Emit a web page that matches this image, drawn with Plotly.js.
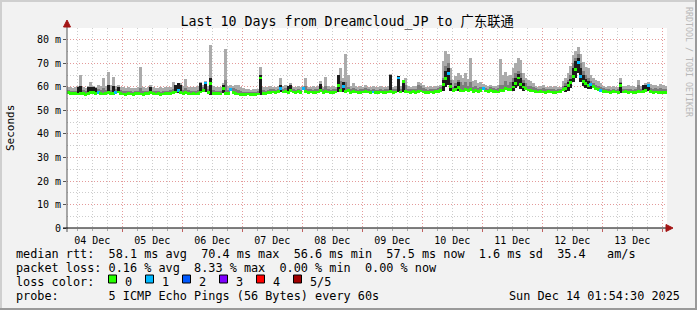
<!DOCTYPE html>
<html><head><meta charset="utf-8">
<script src="https://cdn.plot.ly/plotly-3.0.1.min.js"></script>
<style>html,body{margin:0;padding:0;background:#f2f2f2;}#chart{width:697px;height:310px;}</style>
</head><body><div id="chart"></div>
<script>
// ---- data (hourly steps from start) ----
const startTime = '2025-12-04 01:54:30';
const endTime = '2025-12-14 01:54:30';
const stepMs = 3600000;
const yTickVals = [0,10,20,30,40,50,60,70,80];
const yTickText = ['0','10 m','20 m','30 m','40 m','50 m','60 m','70 m','80 m'];

const medianRtt = [
57.6,57.3,57.1,57.2,57.0,57.3,57.1,56.9,57.4,57.6,
57.8,57.2,57.5,57.3,57.0,57.2,57.6,57.1,57.4,57.7,
57.9,57.2,57.0,56.9,57.1,57.0,56.8,57.1,57.2,57.0,
56.9,57.1,57.3,57.6,57.2,57.0,57.1,56.8,57.0,57.2,
57.1,57.3,57.6,57.9,58.4,57.6,57.1,57.5,57.2,57.0,
57.1,57.0,57.3,57.9,58.6,61.7,57.8,61.5,57.4,57.1,
57.2,57.0,59.5,57.3,57.1,58.8,57.5,57.2,57.0,56.9,
56.9,56.8,57.0,56.9,56.8,56.9,57.0,63.8,57.4,57.2,
57.6,57.8,57.9,57.7,58.0,59.5,57.9,58.2,57.8,58.4,
57.9,57.8,58.0,57.7,59.3,58.1,57.8,57.9,57.6,57.8,
57.9,58.6,57.8,58.2,57.9,57.7,57.8,57.9,60.8,58.5,
60.3,58.0,58.4,57.8,58.1,57.9,57.7,57.8,57.9,58.1,
57.9,57.8,57.9,57.7,57.8,57.9,57.6,57.8,57.9,58.0,
57.8,57.9,63.8,57.9,62.3,58.2,57.9,57.8,58.0,57.8,
58.1,58.3,57.9,57.8,57.7,57.9,57.8,58.0,58.2,58.6,
61.0,63.5,65.8,60.2,58.5,59.0,59.8,58.6,58.3,59.0,
58.4,58.9,58.2,58.6,58.1,58.4,59.2,58.3,58.0,58.5,
58.2,58.0,57.9,58.4,58.6,59.3,58.8,59.0,60.0,61.5,
63.8,61.0,60.0,59.2,58.7,58.5,58.3,58.0,57.9,58.1,
57.9,57.8,58.0,57.9,57.8,57.7,57.9,58.0,58.8,59.5,
60.5,61.8,64.5,67.5,70.4,64.4,62.5,61.5,60.8,60.9,
60.2,59.4,59.0,58.6,58.2,58.0,57.9,57.8,58.0,57.9,
57.8,60.5,57.9,58.0,57.8,57.9,57.7,57.8,58.2,57.9,
58.0,58.4,60.8,58.0,57.8,57.9,57.7,57.8,57.6,57.5];

const smokeMax = [
60.2,59.8,59.6,59.9,60.3,65.0,60.0,59.7,60.4,62.0,
60.6,60.2,61.0,60.4,64.0,60.5,66.4,60.8,64.4,60.6,
61.0,60.2,59.9,59.6,59.8,59.5,59.4,59.7,59.9,68.5,
59.8,59.6,60.0,61.0,59.9,59.7,59.5,59.8,59.6,60.0,
59.8,60.2,62.0,60.5,61.2,61.5,60.4,63.5,60.2,59.9,
59.8,60.1,60.3,62.0,61.0,62.5,60.4,77.9,60.6,60.0,
59.8,60.2,61.5,76.0,60.5,60.8,60.6,61.0,60.7,60.2,
59.6,59.2,59.0,58.9,59.1,59.0,59.3,68.5,60.0,59.8,
60.0,60.3,59.8,60.2,60.6,63.8,60.4,60.9,60.6,61.5,
60.2,60.0,60.4,60.1,60.5,63.8,60.2,60.0,60.3,60.1,
60.4,62.5,60.2,64.3,60.3,60.0,60.4,60.2,65.0,68.0,
64.0,74.0,65.0,60.5,61.5,60.3,60.1,60.4,60.2,61.0,
60.2,60.0,60.4,60.1,60.0,60.3,60.2,60.1,60.4,65.5,
60.2,60.4,64.0,60.3,62.5,64.0,60.6,60.2,60.4,60.3,
62.2,61.8,60.8,60.2,60.0,60.4,60.1,60.3,60.5,61.0,
71.0,75.5,74.0,68.0,63.0,64.5,66.0,65.0,64.0,66.0,
63.5,72.3,62.5,63.0,61.5,62.0,61.2,60.8,60.5,61.0,
60.6,60.4,61.0,72.0,65.0,66.5,64.5,65.0,68.0,70.0,
72.5,71.5,66.0,64.0,63.0,62.5,61.5,60.5,60.2,60.4,
60.8,60.2,60.0,60.3,60.1,60.4,60.2,60.0,62.5,64.0,
66.0,69.0,73.5,75.5,77.2,74.0,70.8,68.5,68.0,65.0,
64.0,63.0,62.5,61.5,60.5,60.2,60.4,60.1,60.3,60.0,
60.2,63.7,60.6,60.4,60.8,60.3,60.5,60.2,63.0,60.6,
60.9,61.5,62.0,61.2,60.8,61.0,60.6,61.3,60.9,60.5];

const smokeMid = [
58.6,58.4,58.2,58.5,58.8,59.5,58.6,58.3,58.9,59.4,
59.0,58.6,59.2,58.8,59.6,58.7,60.5,58.9,60.0,59.0,
59.6,58.7,58.4,58.2,58.4,58.1,58.0,58.3,58.5,59.5,
58.2,58.3,58.5,59.4,58.4,58.2,58.3,58.0,58.2,58.5,
58.4,58.6,59.2,59.4,59.8,59.0,58.6,59.5,58.6,58.4,
58.4,58.5,58.7,60.0,60.0,62.3,59.0,64.0,58.8,58.5,
58.5,58.4,60.5,63.0,58.6,59.6,59.4,59.0,58.7,58.4,
58.0,57.9,58.0,57.9,57.9,58.0,58.2,65.0,58.6,58.4,
58.8,59.0,59.0,58.9,59.2,61.0,59.1,59.4,59.0,60.0,
59.1,58.9,59.2,58.9,60.0,60.5,59.0,59.0,58.9,59.0,
59.1,60.2,59.0,60.5,59.1,58.9,59.0,59.1,62.0,62.5,
61.5,62.0,60.0,59.0,59.6,59.1,58.9,59.0,59.1,59.4,
59.0,58.9,59.2,58.8,58.9,59.1,58.8,59.0,59.2,62.0,
59.0,59.1,64.5,59.0,62.5,61.0,59.2,59.0,59.1,59.0,
61.0,60.5,59.4,59.0,58.9,59.1,59.0,59.2,59.4,59.8,
64.0,69.0,70.0,63.0,60.0,61.5,63.0,62.0,61.0,62.0,
60.5,62.0,60.0,60.5,59.6,60.0,60.2,59.6,59.2,59.8,
59.5,59.2,59.4,61.0,61.0,62.5,61.0,62.0,64.0,66.0,
67.0,66.0,63.0,61.5,60.5,60.5,59.8,59.4,59.0,59.3,
59.6,59.0,59.1,59.2,59.0,58.9,59.0,59.2,60.5,61.5,
63.0,65.0,70.0,72.5,74.0,70.0,67.0,65.0,64.0,62.5,
61.5,61.0,60.5,60.0,59.5,59.2,59.0,58.9,59.1,58.9,
59.0,62.0,59.2,59.1,59.3,59.0,58.9,59.0,61.0,59.2,
59.4,60.0,61.2,59.5,59.2,59.4,59.0,59.6,59.3,59.0];

const darkHours = [4,5,8,9,10,11,16,18,20,33,43,44,45,53,55,57,62,77,85,88,89,101,108,110,129,132,134,150,151,152,153,155,156,178,179,180,181,182,199,200,201,202,203,204,205,206,207,208,209,221,230,231,232];
const darkLow = [57.0,57.0,57.2,57.3,57.3,57.1,57.3,57.2,57.5,57.4,57.4,57.6,57.2,57.4,57.8,56.8,57.4,56.8,57.8,57.6,58.0,57.8,57.8,58.0,57.6,58.0,57.8,58.5,60.0,61.0,58.5,58.2,58.5,58.5,59.5,60.5,59.0,58.5,58.0,58.5,59.5,62.0,64.0,66.0,62.0,60.5,59.5,59.0,59.0,57.6,57.6,57.8,58.2];
const darkTop = [59.8,60.5,60.0,60.2,59.8,59.6,61.0,60.5,60.2,60.2,61.0,61.5,60.8,61.5,62.3,63.8,61.0,65.0,61.0,60.5,60.8,61.2,65.0,62.0,65.0,64.5,62.5,63.0,67.0,68.0,61.5,60.5,62.0,62.0,64.0,65.5,64.0,61.5,60.5,62.0,63.5,68.0,71.0,72.5,68.0,65.0,63.5,62.5,61.8,61.5,60.8,61.0,61.2];

const lossHours = [12,19,44,55,65,85,94,110,122,132,152,166,204,205,209,213,232];
const lossCounts = [1,1,1,1,1,1,1,1,1,1,1,1,1,1,1,1,1];
const lossColors = ['#26ff00','#00b8ff','#0059ff','#7e00ff','#ff0000','#a00000'];
const lossLabels = ['0','1','2','3','4','5/5'];

const titleText = 'Last 10 Days from Dreamcloud_JP to 广东联通';
const rttStats = ['58.1','70.4','56.6','57.5','1.6','35.4'];
const lossStats = ['0.16','8.33','0.00','0.00'];
const probeText = '5 ICMP Echo Pings (56 Bytes) every 60s';
const dateText = 'Sun Dec 14 01:54:30 2025';

// ---- build ----
const MONO = "'DejaVu Sans Mono', 'Noto Sans CJK SC', monospace";
const t0 = Date.parse(startTime.replace(' ','T') + 'Z');
function hx(i){ return new Date(t0 + (i + 0.5) * stepMs).toISOString().slice(0,19).replace('T',' '); }
const idx = medianRtt.map((_, i) => i);
const xs = idx.map(hx);
const band = 0.6;
const baseLow = medianRtt.map(v => v - band);
const W = stepMs * 1.04;

const lossOf = idx.map(() => 0);
lossHours.forEach((h, k) => { lossOf[h] = lossCounts[k]; });

const traces = [
  {type:'bar', x:xs, base:baseLow, y:smokeMax.map((v,i)=>v-baseLow[i]), width:W,
   marker:{color:'#ababab', line:{width:0}}, hoverinfo:'skip'},
  {type:'bar', x:xs, base:baseLow, y:smokeMid.map((v,i)=>v-baseLow[i]), width:W,
   marker:{color:'#7c7c7c', line:{width:0}}, hoverinfo:'skip'},
  {type:'bar', x:darkHours.map(hx), base:darkLow, y:darkTop.map((v,k)=>v-darkLow[k]), width:W,
   marker:{color:'#1c1c1c', line:{width:0}}, hoverinfo:'skip'},
  {type:'bar', x:xs, base:baseLow, y:medianRtt.map(()=>2*band), width:W,
   marker:{color:lossOf.map(c=>lossColors[c]), line:{width:0}}, hoverinfo:'skip'}
];

// pixel helpers for decorations (plot area: x 67..667, y 28..228)
const px = p => (p - 67) / 600;
const py = p => (228 - p) / 200;

const shapes = [
  // frame
  {type:'line', xref:'paper', yref:'paper', x0:px(0), x1:px(697), y0:py(1), y1:py(1), line:{color:'#cfcfcf', width:2}},
  {type:'line', xref:'paper', yref:'paper', x0:px(1), x1:px(1), y0:py(0), y1:py(310), line:{color:'#cfcfcf', width:2}},
  {type:'line', xref:'paper', yref:'paper', x0:px(696), x1:px(696), y0:py(0), y1:py(310), line:{color:'#9a9a9a', width:2}},
  {type:'line', xref:'paper', yref:'paper', x0:px(0), x1:px(697), y0:py(309), y1:py(309), line:{color:'#9a9a9a', width:2}},
  // axis extensions
  {type:'line', xref:'paper', yref:'paper', x0:0, x1:0, y0:py(232), y1:py(23), line:{color:'#555', width:1}},
  {type:'line', xref:'paper', yref:'paper', x0:px(63), x1:px(668), y0:0, y1:0, line:{color:'#000', width:1}},
  // arrows
  {type:'path', xref:'paper', yref:'paper', path:`M ${px(63.5)} ${py(27)} L ${px(67)} ${py(20)} L ${px(70.5)} ${py(27)} Z`, fillcolor:'#a31515', line:{color:'#a31515', width:1}},
  {type:'path', xref:'paper', yref:'paper', path:`M ${px(666)} ${py(224.5)} L ${px(673)} ${py(228)} L ${px(666)} ${py(231.5)} Z`, fillcolor:'#a31515', line:{color:'#a31515', width:1}}
];

const NB = s => s.replace(/ /g, '\u00a0');
const lf = {family:MONO, size:11.83, color:'#000'};
const rowY = [254, 268, 282, 296];
const annotations = [
  {xref:'paper', yref:'paper', x:px(10), y:py(128), text:'Seconds', textangle:-90, showarrow:false,
   font:{family:MONO, size:11, color:'#000'}, xanchor:'center', yanchor:'middle'},
  {xref:'paper', yref:'paper', x:px(689), y:py(62), text:'RRDTOOL / TOBI OETIKER', textangle:90, showarrow:false,
   font:{family:MONO, size:8.3, color:'#b8b8b8'}, xanchor:'center', yanchor:'middle'},
  {xref:'paper', yref:'paper', x:px(13.7), y:py(rowY[0]), xanchor:'left', yanchor:'middle', showarrow:false, font:lf,
   text:NB(`median rtt:  ${rttStats[0]} ms avg  ${rttStats[1]} ms max  ${rttStats[2]} ms min  ${rttStats[3]} ms now  ${rttStats[4]} ms sd  ${rttStats[5]}   am/s`)},
  {xref:'paper', yref:'paper', x:px(13.7), y:py(rowY[1]), xanchor:'left', yanchor:'middle', showarrow:false, font:lf,
   text:NB(`packet loss: ${lossStats[0]} % avg  ${lossStats[1]} % max  ${lossStats[2]} % min  ${lossStats[3]} % now`)},
  {xref:'paper', yref:'paper', x:px(13.7), y:py(rowY[2]), xanchor:'left', yanchor:'middle', showarrow:false, font:lf,
   text:NB('loss color:')},
  {xref:'paper', yref:'paper', x:px(13.7), y:py(rowY[3]), xanchor:'left', yanchor:'middle', showarrow:false, font:lf,
   text:NB('probe:       ' + probeText)},
  {xref:'paper', yref:'paper', x:px(682), y:py(rowY[3]), xanchor:'right', yanchor:'middle', showarrow:false, font:lf,
   text:NB(dateText)}
];
lossColors.forEach((c, k) => {
  const bx = 108.5 + 37 * k;
  shapes.push({type:'rect', xref:'paper', yref:'paper', x0:px(bx), x1:px(bx+8), y0:py(275), y1:py(283),
    fillcolor:c, line:{color:'#000', width:1}});
  annotations.push({xref:'paper', yref:'paper', x:px(bx+14), y:py(rowY[2]), xanchor:'left', yanchor:'middle',
    showarrow:false, font:lf, text:lossLabels[k]});
});

const layout = {
  width:697, height:310,
  margin:{l:67, r:30, t:28, b:82, pad:0},
  paper_bgcolor:'#f2f2f2', plot_bgcolor:'#ffffff',
  showlegend:false, barmode:'overlay', bargap:0,
  title:{text:titleText, font:{family:MONO, size:13.3, color:'#000'}, x:0.498, xref:'container', xanchor:'center',
         y:1-21/310, yref:'container', yanchor:'middle'},
  xaxis:{type:'date', range:[startTime, endTime], tick0:'2025-12-04 00:00:00', dtick:86400000,
         tickformat:'%d %b', ticklabelmode:'period', showgrid:true, gridcolor:'#e49a9a', griddash:'1px,2px', gridwidth:1,
         ticks:'outside', ticklen:3, tickcolor:'#c06060', showline:false, zeroline:false,
         tickfont:{family:MONO, size:10, color:'#000'},
         minor:{dtick:21600000, tick0:'2025-12-04 00:00:00', showgrid:true, gridcolor:'#cdcdcd', griddash:'1px,2px', gridwidth:1,
                ticks:'outside', ticklen:2, tickcolor:'#aaaaaa'}},
  yaxis:{range:[0, 85.1], tickvals:yTickVals, ticktext:yTickText, showgrid:true, gridcolor:'#e49a9a', griddash:'1px,2px',
         ticks:'outside', ticklen:3, tickcolor:'#555', showline:false, zeroline:false,
         tickfont:{family:MONO, size:10, color:'#000'},
         minor:{dtick:5, tick0:0, showgrid:true, gridcolor:'#cdcdcd', griddash:'1px,2px', ticks:''}},
  shapes:shapes, annotations:annotations
};
Plotly.newPlot('chart', traces, layout, {staticPlot:true, displayModeBar:false});
</script></body></html>
